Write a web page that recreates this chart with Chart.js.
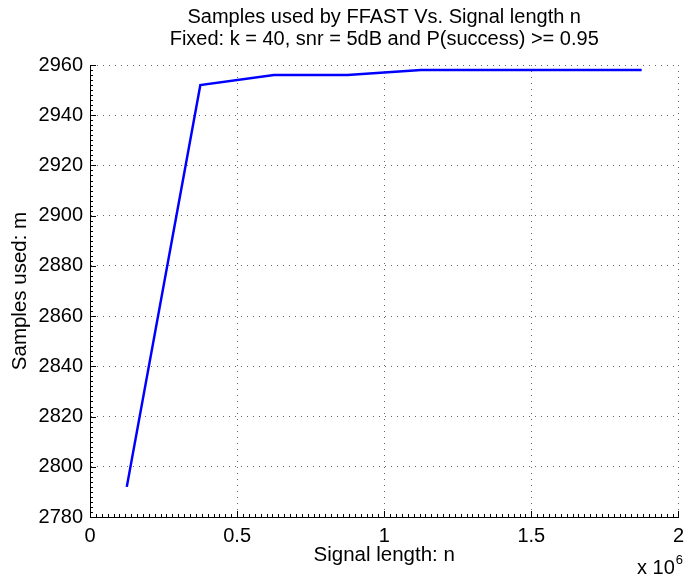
<!DOCTYPE html>
<html>
<head>
<meta charset="utf-8">
<title>Samples used by FFAST</title>
<script src="https://cdn.jsdelivr.net/npm/chart.js@4"></script>
<style>
  html, body { margin: 0; padding: 0; background: #fff; }
  #wrap { width: 691px; height: 575px; }
</style>
</head>
<body>
<div id="wrap"><canvas id="chart" width="691" height="575"></canvas></div>
<script>
// signal length n and samples used m
const signalLength = [125000, 375000, 625000, 875000, 1125000, 1375000, 1625000, 1875000];
const samplesUsed = [2792, 2952, 2956, 2956, 2958, 2958, 2958, 2958];

const titleLines = ["Samples used by FFAST Vs. Signal length n", "Fixed: k = 40, snr = 5dB and P(success) >= 0.95"];
const xLabel = "Signal length: n";
const yLabel = "Samples used: m";

const FONT = "'Liberation Sans', Arial, Helvetica, sans-serif";

// MATLAB style inward ticks (major + minor) and the "x 10^6" exponent
const matlabAxes = {
  id: "matlabAxes",
  afterDraw(chart){
    const {ctx, chartArea: a, scales: {x, y}} = chart;
    ctx.save();
    ctx.strokeStyle = "#000";
    ctx.lineWidth = 1;
    ctx.beginPath();
    for (let v = 0; v <= 2000000 + 1; v += 20000){
      const px = Math.round(x.getPixelForValue(v)) + 0.5;
      const len = (v % 500000 === 0) ? 6 : 3;
      ctx.moveTo(px, a.bottom); ctx.lineTo(px, a.bottom - len);
    }
    for (let v = 2780; v <= 2960; v += 2){
      const py = Math.round(y.getPixelForValue(v)) + 0.5;
      const len = (v % 20 === 0) ? 6 : 3;
      ctx.moveTo(a.left, py); ctx.lineTo(a.left + len, py);
    }
    ctx.stroke();

    ctx.fillStyle = "#000";
    ctx.textBaseline = "alphabetic";
    ctx.textAlign = "right";
    ctx.font = "13px " + FONT;
    ctx.fillText("6", 683, 564);
    const w6 = ctx.measureText("6").width;
    ctx.font = "20px " + FONT;
    ctx.fillText("x 10", 683 - w6 - 1, 574);
    ctx.restore();
  }
};

new Chart(document.getElementById("chart"), {
  type: "line",
  data: {
    datasets: [{
      data: signalLength.map((n, i) => ({x: n, y: samplesUsed[i]})),
      borderColor: "#0000ff",
      borderWidth: 2.5,
      pointRadius: 0,
      tension: 0,
      fill: false
    }]
  },
  options: {
    responsive: false,
    animation: false,
    layout: { padding: { left: 0, right: 5, top: 0, bottom: 0 } },
    plugins: {
      legend: { display: false },
      tooltip: { enabled: false },
      title: {
        display: true,
        fullSize: false,
        text: titleLines,
        color: "#000",
        font: { family: FONT, size: 20, weight: "normal", lineHeight: 1.1 },
        padding: { top: 6, bottom: 15 }
      }
    },
    scales: {
      x: {
        type: "linear",
        min: 0,
        max: 2000000,
        afterFit(s){ s.height = 58; },
        ticks: {
          stepSize: 500000,
          padding: 7,
          color: "#000",
          maxRotation: 0,
          font: { family: FONT, size: 20 },
          callback: (v) => String(v / 1e6)
        },
        grid: { color: "rgba(0,0,0,0.6)", lineWidth: 1, drawTicks: false },
        border: { display: true, color: "#000", width: 1, dash: [1, 5] },
        title: {
          display: true,
          text: xLabel,
          color: "#000",
          font: { family: FONT, size: 20.5 },
          padding: { top: 0, bottom: 7 }
        }
      },
      y: {
        min: 2780,
        max: 2960,
        afterFit(s){ s.width = 90; },
        ticks: {
          stepSize: 20,
          padding: 7,
          color: "#000",
          font: { family: FONT, size: 20 },
          callback: (v) => String(v)
        },
        grid: { color: "rgba(0,0,0,0.6)", lineWidth: 1, drawTicks: false },
        border: { display: true, color: "#000", width: 1, dash: [1, 5] },
        title: {
          display: true,
          text: yLabel,
          color: "#000",
          font: { family: FONT, size: 20.5 },
          padding: { top: 8, bottom: 0 }
        }
      }
    }
  },
  plugins: [matlabAxes]
});
</script>
</body>
</html>
